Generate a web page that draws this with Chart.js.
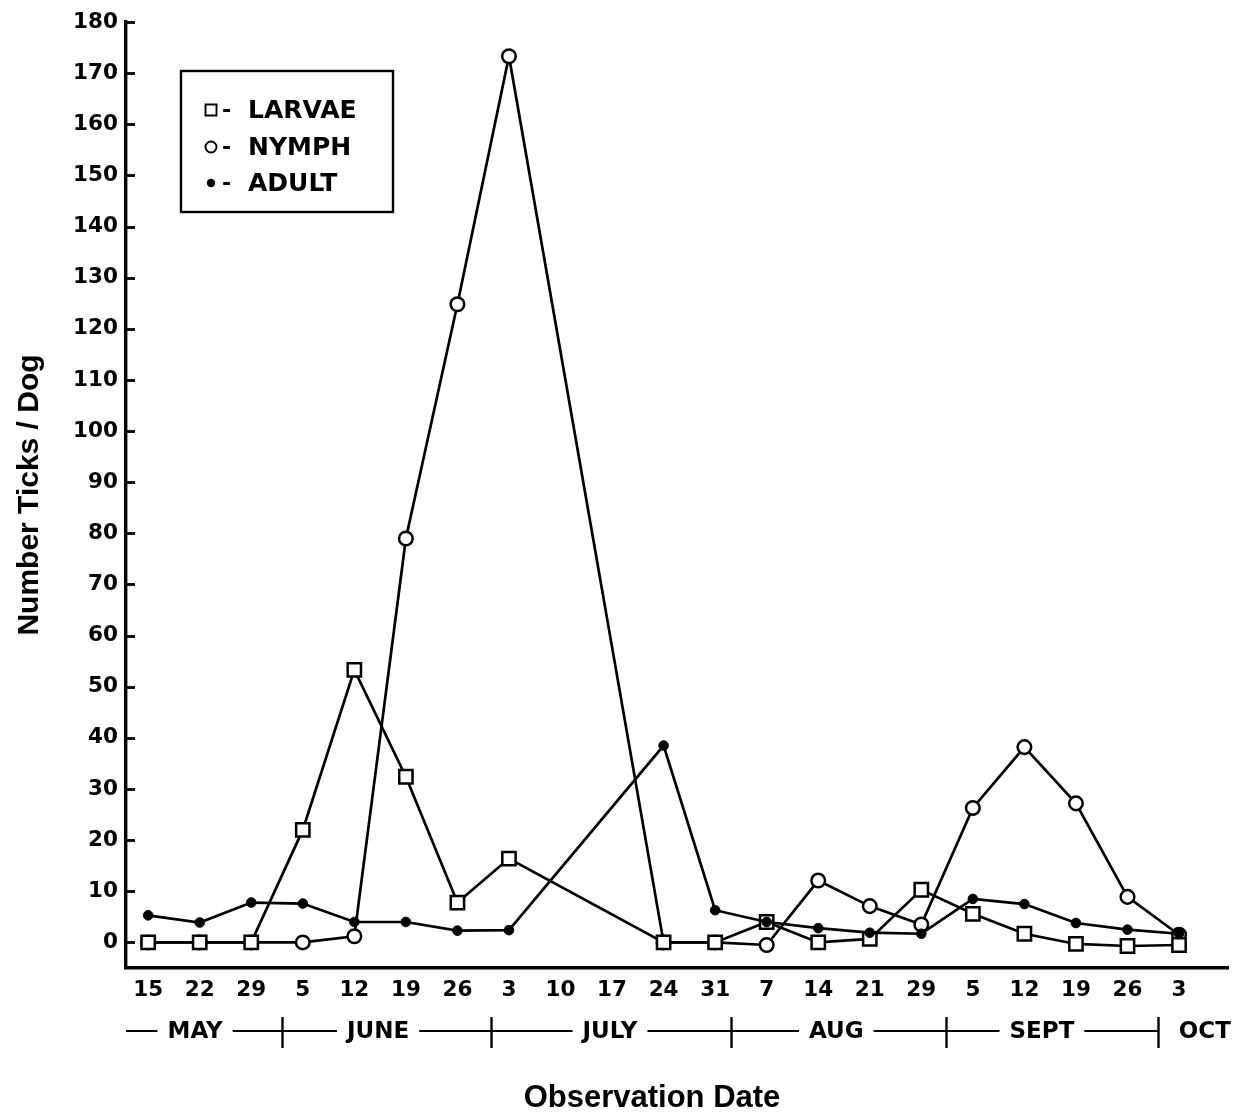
<!DOCTYPE html>
<html><head><meta charset="utf-8">
<script src="https://cdn.jsdelivr.net/npm/chart.js@4/dist/chart.umd.min.js"></script>
<style>html,body{margin:0;padding:0;background:#fff}#wrap{width:1240px;height:1116px;position:relative}canvas{display:block}</style>
</head><body><div id="wrap"><canvas id="c" width="1240" height="1116"></canvas></div>
<script>
const dateLabels = ['15','22','29','5','12','19','26','3','10','17','24','31','7','14','21','29','5','12','19','26','3'];
const monthLabels = ['MAY','JUNE','JULY','AUG','SEPT','OCT'];
const seriesNames = ['LARVAE','NYMPH','ADULT'];
const larvae = [0,0,0,22,53.3,32.4,7.8,16.4,null,null,0,0,4,0,0.7,10.3,5.6,1.7,-0.3,-0.7,-0.5];
const nymph  = [0,0,0,0,1.2,79,124.8,173.3,null,null,0,0,-0.5,12.1,7.1,3.5,26.3,38.2,27.2,8.9,1.5];
const adult  = [5.3,3.9,7.8,7.6,4,4,2.3,2.4,null,null,38.5,6.3,4,2.8,1.9,1.7,8.5,7.5,3.8,2.5,1.7];
const yTicks = [0,10,20,30,40,50,60,70,80,90,100,110,120,130,140,150,160,170,180];

const toPts = arr => arr.map((v, i) => ({x: i, y: v}));

const TICKFONT = {family: 'DejaVu Sans', weight: 'bold', size: 21.5};

const decor = {
  id: 'decor',
  afterDraw(chart) {
    const ctx = chart.ctx;
    const xs = chart.scales.x, ys = chart.scales.y;
    const ca = chart.chartArea;
    ctx.save();
    // inward y tick marks
    ctx.strokeStyle = '#000';
    ctx.lineWidth = 2.8;
    yTicks.forEach(v => {
      const y = Math.round(ys.getPixelForValue(v)) + 0.5;
      ctx.beginPath();
      ctx.moveTo(ca.left, y);
      ctx.lineTo(ca.left + 9, y);
      ctx.stroke();
    });
    // month row
    const seps = [2.60, 6.65, 11.31, 15.48, 19.59];
    const centers = [0.91, 4.46, 8.96, 13.35, 17.34, 20.5];
    const my = 1031;
    ctx.lineWidth = 2;
    ctx.beginPath();
    ctx.moveTo(ca.left, my);
    ctx.lineTo(xs.getPixelForValue(seps[seps.length - 1]), my);
    ctx.stroke();
    ctx.lineWidth = 2.4;
    seps.forEach(s => {
      const x = Math.round(xs.getPixelForValue(s)) + 0.5;
      ctx.beginPath();
      ctx.moveTo(x, 1017);
      ctx.lineTo(x, 1048);
      ctx.stroke();
    });
    ctx.font = 'bold 23px "DejaVu Sans"';
    ctx.textAlign = 'center';
    ctx.textBaseline = 'middle';
    monthLabels.forEach((m, i) => {
      const cx = xs.getPixelForValue(centers[i]);
      const w = ctx.measureText(m).width;
      ctx.fillStyle = '#fff';
      ctx.fillRect(cx - w / 2 - 10, my - 14, w + 20, 28);
      ctx.fillStyle = '#000';
      ctx.fillText(m, cx, my + 1);
    });
    // x title
    ctx.font = 'bold 31px "Liberation Sans"';
    ctx.fillText('Observation Date', 652, 1098);
    // legend box
    ctx.lineWidth = 2.4;
    ctx.strokeRect(181, 71, 212, 141);
    const rows = [110, 147, 183];
    ctx.textAlign = 'left';
    rows.forEach((ry, i) => {
      const mx = 211;
      ctx.lineWidth = 1.9;
      ctx.fillStyle = '#fff';
      ctx.beginPath();
      if (i === 0) {
        ctx.rect(mx - 5.5, ry - 5.5, 11, 11);
        ctx.fill(); ctx.stroke();
      } else if (i === 1) {
        ctx.arc(mx, ry, 5.5, 0, Math.PI * 2);
        ctx.fill(); ctx.stroke();
      } else {
        ctx.arc(mx, ry, 4.2, 0, Math.PI * 2);
        ctx.fillStyle = '#000';
        ctx.fill();
      }
      ctx.fillStyle = '#000';
      ctx.font = 'bold 22px "DejaVu Sans"';
      ctx.fillText('-', 222, ry + 1);
      ctx.font = 'bold 25px "DejaVu Sans"';
      ctx.fillText(seriesNames[i], 248, ry + 1);
    });
    ctx.restore();
  }
};

new Chart(document.getElementById('c'), {
  type: 'line',
  data: {
    datasets: [
      {label: seriesNames[2], data: toPts(adult), order: 0, borderColor: '#000', borderWidth: 2.7,
       pointStyle: 'circle', pointRadius: 4.8, pointBackgroundColor: '#000', pointBorderColor: '#000', pointBorderWidth: 1},
      {label: seriesNames[0], data: toPts(larvae), order: 1, borderColor: '#000', borderWidth: 2.7,
       pointStyle: 'rect', pointRadius: 9.4, pointBackgroundColor: '#fff', pointBorderColor: '#000', pointBorderWidth: 2.5},
      {label: seriesNames[1], data: toPts(nymph), order: 2, borderColor: '#000', borderWidth: 2.7,
       pointStyle: 'circle', pointRadius: 6.8, pointBackgroundColor: '#fff', pointBorderColor: '#000', pointBorderWidth: 2.5}
    ]
  },
  options: {
    responsive: false,
    animation: false,
    devicePixelRatio: 1,
    spanGaps: true,
    elements: {line: {tension: 0}},
    layout: {padding: {top: 22, right: 12, left: 0, bottom: 0}},
    plugins: {legend: {display: false}, tooltip: {enabled: false}},
    scales: {
      x: {
        type: 'linear', min: -0.43, max: 20.95,
        afterBuildTicks: s => { s.ticks = dateLabels.map((_, i) => ({value: i})); },
        afterFit: s => { s.height = 148; },
        ticks: {autoSkip: false, maxRotation: 0, padding: 10, color: '#000', font: TICKFONT,
                callback: v => dateLabels[v]},
        grid: {display: true, drawOnChartArea: false, drawTicks: false},
        border: {display: true, color: '#000', width: 3.4}
      },
      y: {
        min: -5, max: 180,
        afterBuildTicks: s => { s.ticks = yTicks.map(v => ({value: v})); },
        afterFit: s => { s.width = 126; },
        ticks: {padding: 8, color: '#000', font: TICKFONT},
        grid: {display: true, drawOnChartArea: false, drawTicks: false},
        border: {display: true, color: '#000', width: 3.4},
        title: {display: true, text: 'Number Ticks / Dog', color: '#000',
                font: {family: 'Liberation Sans', weight: 'bold', size: 30}, padding: {top: 12, bottom: 0}}
      }
    }
  },
  plugins: [decor]
});
</script></body></html>
